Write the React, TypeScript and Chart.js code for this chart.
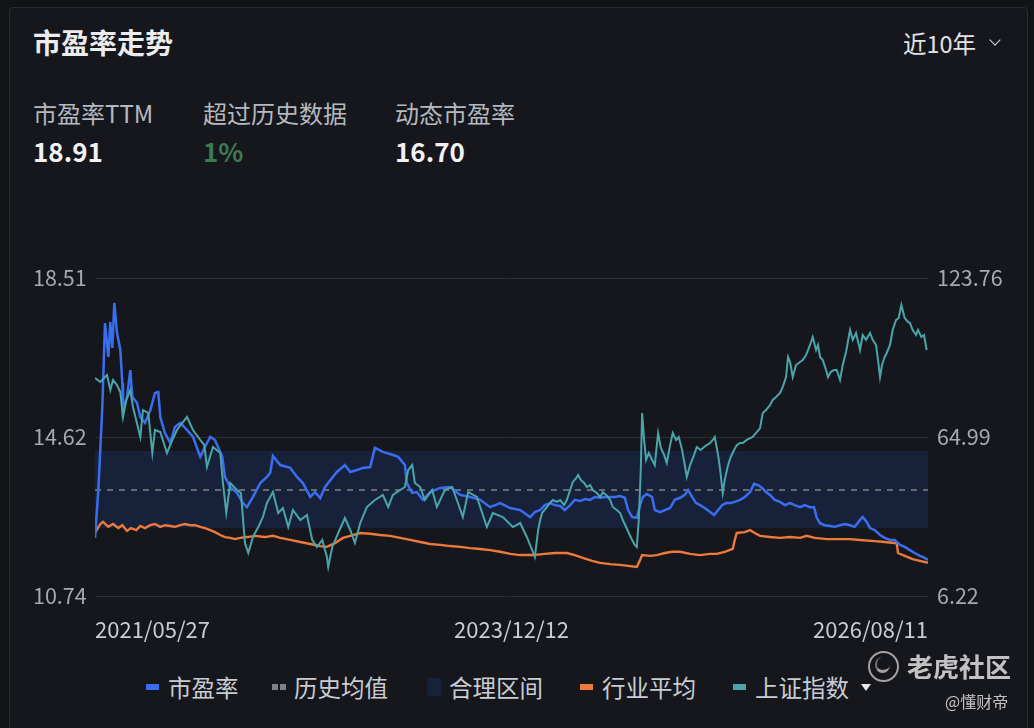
import React, { useEffect, useRef } from "react";
import { Chart, registerables } from "chart.js";

Chart.register(...registerables);

// ---------------- data ----------------
const X_TICK_DAYS = [0, 625, 1250];
const X_TICK_LABELS = ["2021/05/27", "2023/12/12", "2026/08/11"];
const PE_TICKS = [10.74, 14.62, 18.51];
const IDX_TICKS = [6.22, 64.99, 123.76];

const HIST_MEAN = 13.33;
const FAIR_LOW = 12.4;
const FAIR_HIGH = 14.28;

// 市盈率 (left axis)
const PE_DAYS = [
  0, 5, 11, 15, 20, 23, 26, 29, 33, 38,
  41, 42, 48, 53, 56, 63, 68, 75, 83, 90,
  95, 98, 105, 113, 120, 128, 138, 147, 158, 165,
  173, 180, 191, 195, 203, 213, 222, 228, 237, 248,
  258, 263,
  267, 278, 293, 303, 312, 323, 330, 338, 345, 353,
  363, 375, 383, 393, 402, 413, 420, 432, 446, 455,
  465, 468, 476, 483, 492, 503, 518, 533, 548, 563,
  578, 593, 608, 623, 638, 653, 660,
  668, 675, 683, 690, 698, 705, 713, 720, 728, 735,
  743, 750, 758, 765, 773, 780, 788, 795, 800, 806,
  813, 818, 822, 828, 836, 840, 848, 855, 863, 870,
  878, 885, 890, 896, 902, 908, 915, 923, 929, 935,
  941, 947, 953, 960, 968, 975, 983, 989, 995, 1001,
  1007, 1013, 1020, 1028, 1035, 1043, 1050, 1058, 1065, 1073,
  1079, 1083, 1088, 1095, 1103, 1110, 1118, 1125, 1133, 1140,
  1148, 1152, 1158, 1163, 1170, 1178, 1185, 1193, 1200, 1208,
  1215, 1223, 1230, 1238, 1245, 1250,
];
const PE_VALUES = [
  12.16, 13.33, 15.36, 17.41, 16.58, 17.44, 16.8, 17.9, 17.17, 16.75,
  15.94, 15.28, 15.6, 16.26, 15.6, 15.46, 15.11, 14.97, 15.28, 15.7,
  15.72, 15.11, 14.72, 14.48, 14.87, 14.97, 14.8, 14.63, 14.14, 14.38,
  14.63, 14.55, 14.14, 13.65, 13.4, 13.26, 13.01, 12.91, 13.16, 13.5,
  13.65, 13.75,
  14.16, 13.94, 13.87, 13.65, 13.5, 13.16, 13.28, 13.13, 13.4, 13.57,
  13.77, 13.94, 13.77, 13.82, 13.87, 13.89, 14.36, 14.26, 14.19, 14.14,
  13.94, 13.5, 13.26, 13.28, 13.09, 13.28, 13.38, 13.4, 13.21, 13.16,
  13.09, 12.91, 13.01, 12.89, 12.84, 12.67, 12.79,
  12.84, 12.96, 13.01, 12.96, 12.94, 12.84, 12.96, 13.09, 13.06, 13.11,
  13.09, 13.16, 13.14, 13.16, 13.16, 13.16, 13.18, 13.14, 12.84, 12.67,
  12.65, 12.96, 13.16, 13.23, 13.16, 12.84, 12.79, 12.84, 12.89, 13.09,
  13.14, 13.21, 13.33, 13.16, 13.01, 12.96, 12.89, 12.79, 12.72, 12.84,
  12.96, 13.01, 13.01, 13.04, 13.09, 13.16, 13.28, 13.48, 13.45, 13.38,
  13.28, 13.21, 13.09, 13.04, 12.96, 13.01, 12.96, 12.91, 12.96, 12.91,
  12.91, 12.65, 12.52, 12.47, 12.45, 12.43, 12.47, 12.5, 12.47, 12.43,
  12.6, 12.67, 12.55, 12.4, 12.35, 12.23, 12.16, 12.11, 12.11, 11.99,
  11.94, 11.86, 11.79, 11.72, 11.67, 11.62,
];

// 行业平均 (left axis)
const IND_DAYS = [
  0, 8, 12, 20, 27, 35, 41, 48, 54, 62,
  68, 75, 83, 90, 98, 105, 113, 120, 128, 135,
  143, 150, 158, 165, 173, 180, 188, 195, 203, 210,
  218, 228, 240, 255, 267, 278, 293, 308, 323, 338,
  348, 360, 372, 383, 398, 413, 428, 443, 458, 473,
  488, 503, 518, 533, 548, 563, 578, 593, 608, 623,
  638, 657, 675, 690, 708, 720, 732, 746, 758, 773,
  788, 803, 813, 818, 821, 833, 843, 855, 866, 878,
  893, 908, 923, 933, 945, 957, 960, 963, 975, 983,
  990, 998, 1013, 1028, 1043, 1058, 1068, 1080, 1098, 1118,
  1133, 1148, 1170, 1185, 1203, 1205, 1215, 1227, 1238, 1250,
];
const IND_VALUES = [
  12.28, 12.5, 12.55, 12.43, 12.5, 12.4, 12.47, 12.33, 12.4, 12.35,
  12.45, 12.4, 12.47, 12.5, 12.43, 12.47, 12.45, 12.43, 12.47, 12.5,
  12.47, 12.47, 12.43, 12.4, 12.35, 12.3, 12.23, 12.18, 12.16, 12.13,
  12.16, 12.18, 12.21, 12.18, 12.21, 12.16, 12.11, 12.06, 12.01, 11.96,
  11.94, 12.03, 12.16, 12.21, 12.28, 12.26, 12.23, 12.21, 12.16, 12.11,
  12.06, 12.01, 11.99, 11.96, 11.94, 11.91, 11.89, 11.86, 11.82, 11.77,
  11.74, 11.74, 11.77, 11.79, 11.79, 11.74, 11.67, 11.6, 11.55, 11.52,
  11.5, 11.47, 11.45, 11.62, 11.74, 11.72, 11.74, 11.79, 11.82, 11.82,
  11.77, 11.74, 11.77, 11.77, 11.82, 11.89, 12.11, 12.28, 12.3, 12.35,
  12.28, 12.21, 12.18, 12.16, 12.18, 12.16, 12.21, 12.16, 12.13, 12.13,
  12.13, 12.11, 12.08, 12.06, 12.03, 11.79, 11.72, 11.64, 11.6, 11.55,
];

// 上证指数 (right axis)
const IDX_DAYS = [
  0, 8, 18, 23, 27, 33, 38, 42, 47, 53,
  57, 68, 72, 80, 86, 90, 98, 108, 116, 123,
  132, 138, 147, 158, 164, 168, 177, 188, 192, 197,
  203, 213, 219, 225, 230, 237, 245, 252, 258, 267,
  275, 282, 290, 297, 308, 318, 326, 333, 341, 348,
  350, 356, 365, 375, 383, 390, 398, 408, 420, 432,
  440, 447, 458, 465, 470, 476, 480, 488, 495, 506,
  513, 525, 536, 543, 552, 560, 573, 588, 597, 612,
  627, 638, 648, 656, 660, 665,
  668, 671, 677, 683, 687, 693, 698, 704, 708, 713,
  717, 722, 725, 729, 734, 738, 743, 747, 753, 758,
  762, 767, 773, 777, 783, 788, 792, 797, 801, 806,
  810, 813, 816, 819, 821, 824, 827, 831, 836, 840,
  845, 849, 854, 858, 863, 867, 872, 876, 881, 885,
  888, 893, 899, 903, 909, 914, 918, 923, 927, 930,
  935, 938, 942, 945, 950, 954, 959, 963, 968, 972,
  978, 983, 987, 993, 998, 1002, 1007, 1013, 1017, 1022,
  1028, 1032, 1037, 1040, 1043, 1047, 1052, 1058, 1062, 1067,
  1073, 1077, 1082, 1085, 1088, 1092, 1097, 1100, 1104, 1109,
  1113, 1118, 1122, 1127, 1133, 1137, 1142, 1148, 1152, 1157,
  1163, 1167, 1172, 1175, 1178, 1181, 1185, 1188, 1193, 1197,
  1202, 1206, 1210, 1215, 1220, 1223, 1227, 1232, 1235, 1240,
  1244, 1248,
];
const IDX_VALUES = [
  86.8, 85.32, 87.91, 82.36, 86.06, 84.21, 81.62, 72.38, 78.67, 82.36,
  76.08, 64.99, 74.97, 73.86, 59.08, 67.58, 66.84, 59.08, 63.88, 67.58,
  70.53, 72.38, 67.58, 63.88, 62.03, 53.9, 61.29, 59.08, 47.99, 36.9,
  47.99, 45.4, 44.29, 25.81, 22.11, 28.03, 31.72, 35.42, 40.6, 44.66,
  36.9, 38.75, 31.72, 38.01, 34.31, 36.16, 26.92, 24.33, 26.92, 20.64,
  16.94, 24.33, 29.51, 35.05, 30.62, 25.81, 33.2, 39.12, 41.7, 43.55,
  39.12, 43.55, 45.4, 46.51, 52.79, 54.64, 47.99, 46.51, 41.7, 45.4,
  39.12, 45.4, 46.51, 41.7, 35.42, 44.66, 42.81, 31.72, 36.9, 35.42,
  31.72, 33.2, 28.03, 23.22, 20.64, 30.62,
  34.31, 36.9, 38.8, 40.6, 41.7, 40.97, 41.7, 39.9, 41.7, 45.4,
  48.4, 49.8, 50.94, 49.1, 47.99, 46.51, 47.2, 45.4, 44.29, 42.81,
  44.6, 43.6, 41.7, 39.12, 38.01, 36.9, 34.31, 31.72, 29.51, 26.92,
  25.1, 24.33, 34.31, 52.8, 73.86, 63.9, 56.5, 59.08, 56.5, 54.6,
  66.47, 61.0, 58.4, 55.38, 62.0, 66.47, 63.9, 64.99, 60.19, 54.6,
  50.21, 54.6, 58.4, 61.29, 60.19, 61.29, 62.0, 62.77, 63.9, 64.99,
  58.4, 53.0, 44.29, 49.1, 54.6, 57.6, 60.19, 62.0, 62.77, 62.77,
  63.9, 64.6, 64.99, 66.8, 68.3, 73.86, 74.97, 76.8, 78.67, 79.8,
  81.25, 83.47, 87.17, 94.56, 92.7, 87.17, 91.6, 92.7, 93.45, 95.3,
  99.0, 101.95, 97.15, 99.0, 94.56, 93.45, 89.75, 87.17, 89.0, 89.75,
  89.75, 86.06, 91.6, 96.4, 104.54, 100.9, 103.43, 97.15, 102.7, 100.9,
  103.43, 100.9, 99.0, 93.45, 87.17, 91.6, 94.56, 96.04, 99.0, 104.54,
  108.2, 109.0, 113.78, 109.0, 107.5, 107.13, 104.54, 102.7, 104.54, 101.95,
  102.7, 97.15,
];

const STATS = [
  { label: "市盈率TTM", value: "18.91", color: "#f2f2f4", x: 33 },
  { label: "超过历史数据", value: "1%", color: "#3b7a52", x: 203 },
  { label: "动态市盈率", value: "16.70", color: "#f2f2f4", x: 395 },
];

const LEGEND = [
  { label: "市盈率", kind: "line", color: "#3a6ef0", x: 146 },
  { label: "历史均值", kind: "dash", color: "#7e828b", x: 272 },
  { label: "合理区间", kind: "box", color: "#18213a", x: 427 },
  { label: "行业平均", kind: "line", color: "#ec7a3a", x: 580 },
  { label: "上证指数", kind: "line", color: "#4aa5aa", x: 733 },
];

const FONT = "'Noto Sans CJK SC', 'Noto Sans', sans-serif";
const X_MAX = X_TICK_DAYS[X_TICK_DAYS.length - 1];

const pts = (d: number[], v: number[]) =>
  d.slice(0, Math.min(d.length, v.length)).map((x, i) => ({ x, y: v[i] }));

function Txt(props: {
  x: number;
  cy: number;
  size: number;
  color: string;
  weight?: number;
  children: React.ReactNode;
}) {
  const { x, cy, size, color, weight, children } = props;
  return (
    <div
      style={{
        position: "absolute",
        left: x,
        top: cy - size * 0.6,
        height: size * 1.2,
        lineHeight: `${size * 1.2}px`,
        fontSize: size,
        color,
        fontWeight: weight || 400,
        whiteSpace: "nowrap",
        fontFamily: FONT,
      }}
    >
      {children}
    </div>
  );
}

export default function App() {
  const canvasRef = useRef<HTMLCanvasElement | null>(null);

  useEffect(() => {
    document.body.style.margin = "0";
    const ctx = canvasRef.current;
    if (!ctx) return;
    const chart = new Chart(ctx, {
      type: "line",
      data: {
        datasets: [
          {
            label: "上证指数",
            data: pts(IDX_DAYS, IDX_VALUES),
            yAxisID: "y1",
            borderColor: "#4aa5aa",
            borderWidth: 2,
            pointRadius: 0,
            tension: 0,
            order: 0,
          },
          {
            label: "市盈率",
            data: pts(PE_DAYS, PE_VALUES),
            yAxisID: "y",
            borderColor: "#3a6ef0",
            borderWidth: 2.5,
            pointRadius: 0,
            tension: 0,
            order: 1,
          },
          {
            label: "行业平均",
            data: pts(IND_DAYS, IND_VALUES),
            yAxisID: "y",
            borderColor: "#ec7a3a",
            borderWidth: 2.4,
            pointRadius: 0,
            tension: 0,
            order: 2,
          },
          {
            label: "历史均值",
            data: [
              { x: 0, y: HIST_MEAN },
              { x: X_MAX, y: HIST_MEAN },
            ],
            yAxisID: "y",
            borderColor: "#80848d",
            borderWidth: 1.5,
            borderDash: [6, 6],
            pointRadius: 0,
            order: 3,
          },
          {
            label: "合理区间",
            data: [
              { x: 0, y: FAIR_HIGH },
              { x: X_MAX, y: FAIR_HIGH },
            ],
            yAxisID: "y",
            borderColor: "rgba(0,0,0,0)",
            borderWidth: 0,
            backgroundColor: "#18213a",
            fill: 5,
            pointRadius: 0,
            order: 4,
          },
          {
            label: "合理区间下",
            data: [
              { x: 0, y: FAIR_LOW },
              { x: X_MAX, y: FAIR_LOW },
            ],
            yAxisID: "y",
            borderColor: "rgba(0,0,0,0)",
            borderWidth: 0,
            pointRadius: 0,
            order: 5,
          },
        ],
      },
      options: {
        animation: false,
        responsive: true,
        maintainAspectRatio: false,
        layout: { padding: { left: 33, right: 0, top: 28, bottom: 0 } },
        plugins: {
          legend: { display: false },
          tooltip: { enabled: false },
        },
        scales: {
          x: {
            type: "linear",
            min: 0,
            max: X_MAX,
            grid: { display: false },
            border: { display: false },
            afterBuildTicks: (s: any) => {
              s.ticks = X_TICK_DAYS.map((v) => ({ value: v }));
            },
            afterFit: (s: any) => {
              s.height = 54;
            },
            ticks: {
              align: "inner",
              autoSkip: false,
              maxRotation: 0,
              padding: 12,
              color: "#c9ccd2",
              font: { family: FONT, size: 22 },
              callback: (v: any) => {
                const i = X_TICK_DAYS.indexOf(Number(v));
                return i >= 0 ? X_TICK_LABELS[i] : "";
              },
            },
          },
          y: {
            position: "left",
            min: PE_TICKS[0],
            max: PE_TICKS[PE_TICKS.length - 1],
            afterBuildTicks: (s: any) => {
              s.ticks = PE_TICKS.map((v) => ({ value: v }));
            },
            afterFit: (s: any) => {
              s.width = 62;
            },
            grid: { color: "#2c2e34", lineWidth: 1, drawTicks: false },
            border: { display: false },
            ticks: {
              crossAlign: "far",
              padding: 0,
              color: "#a6a9b0",
              font: { family: FONT, size: 21.5 },
              callback: (v: any) => Number(v).toFixed(2),
            },
          },
          y1: {
            position: "right",
            min: IDX_TICKS[0],
            max: IDX_TICKS[IDX_TICKS.length - 1],
            afterBuildTicks: (s: any) => {
              s.ticks = IDX_TICKS.map((v) => ({ value: v }));
            },
            afterFit: (s: any) => {
              s.width = 106;
            },
            grid: { display: false, drawTicks: false },
            border: { display: false },
            ticks: {
              padding: 9,
              color: "#a6a9b0",
              font: { family: FONT, size: 21.5 },
              callback: (v: any) => Number(v).toFixed(2),
            },
          },
        },
      } as any,
    });
    return () => chart.destroy();
  }, []);

  return (
    <div
      style={{
        position: "fixed",
        left: 0,
        top: 0,
        width: 1034,
        height: 728,
        overflow: "hidden",
        background: "#121317",
        fontFamily: FONT,
      }}
    >
      <div
        style={{
          position: "absolute",
          left: 9,
          top: 7,
          width: 1017,
          height: 760,
          border: "1px solid #2b2c32",
          borderRadius: 4,
          background: "#16171c",
        }}
      />
      <Txt x={33} cy={43} size={28} color="#ececee" weight={700}>
        市盈率走势
      </Txt>
      <Txt x={903} cy={43} size={23.5} color="#e4e5e8">
        近10年
      </Txt>
      <div
        style={{
          position: "absolute",
          left: 991,
          top: 36,
          width: 7,
          height: 7,
          borderRight: "1.5px solid #d8d9dc",
          borderBottom: "1.5px solid #d8d9dc",
          transform: "rotate(45deg)",
        }}
      />
      {STATS.map((s) => (
        <React.Fragment key={s.label}>
          <Txt x={s.x} cy={113} size={24} color="#b5b8bf">
            {s.label}
          </Txt>
          <Txt x={s.x} cy={151} size={26} color={s.color} weight={700}>
            {s.value}
          </Txt>
        </React.Fragment>
      ))}

      <div
        style={{
          position: "absolute",
          left: 0,
          top: 250,
          width: 1034,
          height: 400,
        }}
      >
        <canvas ref={canvasRef} />
      </div>

      {LEGEND.map((l) => (
        <React.Fragment key={l.label}>
          {l.kind === "line" && (
            <div
              style={{
                position: "absolute",
                left: l.x,
                top: 684,
                width: 13,
                height: 6,
                background: l.color,
              }}
            />
          )}
          {l.kind === "dash" && (
            <>
              <div
                style={{
                  position: "absolute",
                  left: l.x,
                  top: 684,
                  width: 6,
                  height: 6,
                  background: l.color,
                }}
              />
              <div
                style={{
                  position: "absolute",
                  left: l.x + 8,
                  top: 684,
                  width: 6,
                  height: 6,
                  background: l.color,
                }}
              />
            </>
          )}
          {l.kind === "box" && (
            <div
              style={{
                position: "absolute",
                left: l.x,
                top: 678,
                width: 14,
                height: 18,
                background: l.color,
              }}
            />
          )}
          <Txt x={l.x + 22} cy={687} size={23.5} color="#c9ccd2">
            {l.label}
          </Txt>
        </React.Fragment>
      ))}
      <div
        style={{
          position: "absolute",
          left: 861,
          top: 684,
          width: 0,
          height: 0,
          borderLeft: "5px solid transparent",
          borderRight: "5px solid transparent",
          borderTop: "7px solid #e8e8ea",
        }}
      />

      {/* watermark */}
      <div
        style={{
          position: "absolute",
          left: 868,
          top: 651,
          width: 27,
          height: 27,
          borderRadius: "50%",
          border: "2px solid rgba(210,210,210,0.75)",
        }}
      />
      <div
        style={{
          position: "absolute",
          left: 875,
          top: 657,
          width: 13,
          height: 13,
          borderRadius: "50%",
          borderBottom: "3px solid rgba(210,210,210,0.75)",
          borderLeft: "2px solid rgba(210,210,210,0.5)",
        }}
      />
      <Txt x={907} cy={666} size={26} color="rgba(225,225,225,0.85)" weight={700}>
        老虎社区
      </Txt>
      <Txt x={945} cy={702} size={16} color="rgba(225,225,225,0.85)">
        @懂财帝
      </Txt>
    </div>
  );
}
